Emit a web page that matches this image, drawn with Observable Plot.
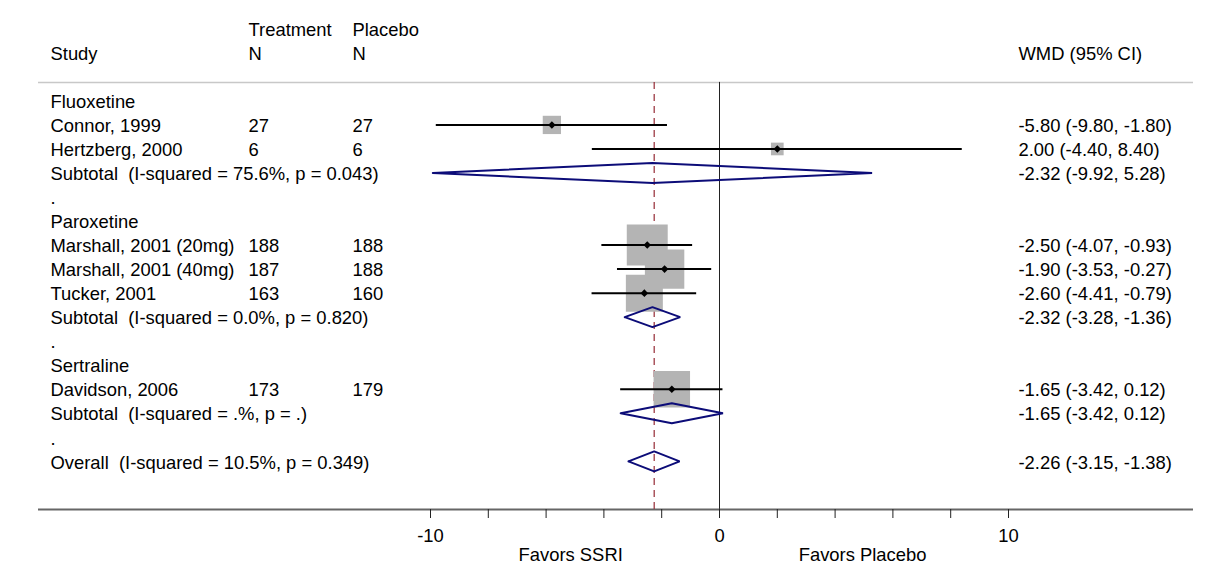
<!DOCTYPE html>
<html>
<head>
<meta charset="utf-8">
<script src="https://cdn.jsdelivr.net/npm/d3@7"></script>
<script src="https://cdn.jsdelivr.net/npm/@observablehq/plot@0.6"></script>
<style>
  html, body { margin: 0; padding: 0; background: #fff; }
  #wrap { position: relative; width: 1211px; height: 588px; overflow: hidden; }
  #edge { position: absolute; left: 7px; top: 5px; width: 2px; height: 583px; background: #e6ebf0; }
  #chart { position: absolute; left: 0; top: 0; }
  svg text { white-space: pre; }
</style>
</head>
<body>
<div id="wrap"><div id="edge"></div><div id="chart"></div></div>
<script>
// ---- data ----
const groupNames = ["Fluoxetine", "Paroxetine", "Sertraline"];
const studyNames = ["Connor, 1999", "Hertzberg, 2000", "Marshall, 2001 (20mg)", "Marshall, 2001 (40mg)", "Tucker, 2001", "Davidson, 2006"];
const studyGroup = [0, 0, 1, 1, 1, 2];
const treatN = [27, 6, 188, 187, 163, 173];
const placeboN = [27, 6, 188, 188, 160, 179];
const studyEst = [-5.80, 2.00, -2.50, -1.90, -2.60, -1.65];
const studyLo = [-9.80, -4.40, -4.07, -3.53, -4.41, -3.42];
const studyHi = [-1.80, 8.40, -0.93, -0.27, -0.79, 0.12];
const studyWeight = [5.2, 2.5, 26.1, 24.2, 21.3, 20.7];
const subI2 = ["75.6%", "0.0%", ".%"];
const subP = ["0.043", "0.820", "."];
const subEst = [-2.32, -2.32, -1.65];
const subLo = [-9.92, -3.28, -3.42];
const subHi = [5.28, -1.36, 0.12];
const overallI2 = "10.5%";
const overallP = "0.349";
const overallEst = -2.26;
const overallLo = -3.15;
const overallHi = -1.38;
const xTicks = [-10, -8, -6, -4, -2, 0, 2, 4, 6, 8, 10];
const tickLabels = [-10, 0, 10];
const favorLabels = ["Favors SSRI", "Favors Placebo"];
const favorX = [-5.15, 4.95];
const headerTop = ["Treatment", "Placebo"];
const headerBottom = ["Study", "N", "N", "WMD (95% CI)"];

// ---- build table rows ----
const fmt = v => v.toFixed(2);
const ciText = (e, l, h) => `${fmt(e)} (${fmt(l)}, ${fmt(h)})`;
const rows = [];
const studies = [];
const pooled = [];
let r = 0;
groupNames.forEach((g, gi) => {
  rows.push({row: r++, label: g});
  studyNames.forEach((s, i) => {
    if (studyGroup[i] !== gi) return;
    const d = {row: r++, label: s, tn: String(treatN[i]), pn: String(placeboN[i]),
      est: studyEst[i], lo: studyLo[i], hi: studyHi[i], w: studyWeight[i],
      ci: ciText(studyEst[i], studyLo[i], studyHi[i])};
    rows.push(d); studies.push(d);
  });
  const sd = {row: r++, label: `Subtotal  (I-squared = ${subI2[gi]}, p = ${subP[gi]})`,
    est: subEst[gi], lo: subLo[gi], hi: subHi[gi], ci: ciText(subEst[gi], subLo[gi], subHi[gi])};
  rows.push(sd); pooled.push(sd);
  rows.push({row: r++, label: "."});
});
const od = {row: r++, label: `Overall  (I-squared = ${overallI2}, p = ${overallP})`,
  est: overallEst, lo: overallLo, hi: overallHi, ci: ciText(overallEst, overallLo, overallHi)};
rows.push(od); pooled.push(od);

const half = 0.416;
const diamondPts = [];
pooled.forEach((d, k) => {
  [[d.lo, d.row], [d.est, d.row - half], [d.hi, d.row], [d.est, d.row + half], [d.lo, d.row]]
    .forEach(([x, y]) => diamondPts.push({id: k, x, y}));
});

const sepRow = -0.77, axisRow = 17;
const font = 18.4;
const txt = {fontSize: font, dy: 1.3, textAnchor: "start", frameAnchor: "left", fill: "#000"};

const chart = Plot.plot({
  width: 1211,
  height: 588,
  marginLeft: 38,
  marginRight: 18,
  marginTop: 0,
  marginBottom: 79,
  style: {fontFamily: "'Liberation Sans', Arial, sans-serif", color: "#000", background: "white"},
  x: {domain: [-10, 10], range: [430, 1008]},
  y: {domain: [0, 15], range: [100.4, 100.4 + 15 * 24.03], axis: null},
  r: {type: "sqrt", domain: [0, d3.max(studyWeight)], range: [0, 23.1]},
  marks: [
    Plot.ruleY([sepRow], {stroke: "#c8c8c8", strokeWidth: 1.5}),
    Plot.ruleY([axisRow], {stroke: "#666", strokeWidth: 2}),
    Plot.ruleX([0], {y1: sepRow, y2: axisRow, stroke: "#222", strokeWidth: 1}),
    Plot.ruleX([overallEst], {y1: sepRow, y2: axisRow, stroke: "#952a35", strokeWidth: 1.2, strokeDasharray: "7,5"}),
    Plot.dot(studies, {x: "est", y: "row", r: "w", symbol: "square", fill: "#b4b4b4"}),
    Plot.ruleY(studies, {y: "row", x1: "lo", x2: "hi", stroke: "black", strokeWidth: 2}),
    Plot.dot(studies, {x: "est", y: "row", r: 3.4, symbol: "diamond2", fill: "black"}),
    Plot.line(diamondPts, {x: "x", y: "y", z: "id", stroke: "#0c0c78", strokeWidth: 2, strokeLinejoin: "miter"}),
    Plot.axisX({anchor: "bottom", ticks: xTicks, tickSize: 9, tickPadding: 10, fontSize: font,
      tickFormat: d => tickLabels.includes(d) ? String(d) : "", stroke: "#222"}),
    Plot.text(favorLabels, {x: (d, i) => favorX[i], y: () => 18.86, text: d => d, fontSize: font, dy: 1.3, fill: "#000"}),
    Plot.text([headerTop[0]], {y: () => -3, text: d => d, ...txt, dx: 210}),
    Plot.text([headerTop[1]], {y: () => -3, text: d => d, ...txt, dx: 314}),
    Plot.text([headerBottom[0]], {y: () => -2, text: d => d, ...txt, dx: 12}),
    Plot.text([headerBottom[1]], {y: () => -2, text: d => d, ...txt, dx: 210}),
    Plot.text([headerBottom[2]], {y: () => -2, text: d => d, ...txt, dx: 314}),
    Plot.text([headerBottom[3]], {y: () => -2, text: d => d, ...txt, dx: 980}),
    Plot.text(rows, {y: "row", text: "label", ...txt, dx: 12}),
    Plot.text(studies, {y: "row", text: "tn", ...txt, dx: 210}),
    Plot.text(studies, {y: "row", text: "pn", ...txt, dx: 314}),
    Plot.text(rows.filter(d => d.ci), {y: "row", text: "ci", ...txt, dx: 980})
  ]
});
document.getElementById("chart").appendChild(chart);
</script>
</body>
</html>
